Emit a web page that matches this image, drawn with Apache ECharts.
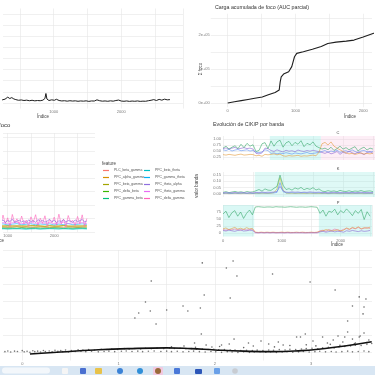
<!DOCTYPE html>
<html><head><meta charset="utf-8">
<script src="https://cdn.jsdelivr.net/npm/echarts/dist/echarts.min.js"></script>
<style>html,body{margin:0;padding:0;background:#fff}#c{width:375px;height:375px}</style>
</head><body><div id="c"></div>
<script>
// ---------- data ----------
// top-left: foco vs índice
const tlIdx = [0,60,120,180,240,280,320,350,380,410,440,480,520,560,600,640,680,720,760,800,840,870,885,900,930,970,1010,1040,1080,1120,1160,1200,1240,1280,1320,1360,1400,1440,1480,1520,1560,1600,1640,1680,1720,1760,1800,1840,1880,1920,1960,2000,2040,2080,2120,2160,2200,2240,2280,2320,2360,2400,2440,2480,2520,2560,2600,2640,2680,2720];
const tlVal = [0.28,0.30,0.26,0.30,0.28,0.34,0.52,0.40,0.48,0.36,0.30,0.24,0.27,0.22,0.25,0.20,0.24,0.19,0.22,0.20,0.25,0.40,0.85,0.35,0.22,0.28,0.24,0.33,0.22,0.18,0.20,0.16,0.20,0.17,0.19,0.15,0.18,0.16,0.19,0.14,0.18,0.17,0.28,0.20,0.16,0.18,0.15,0.19,0.16,0.22,0.26,0.17,0.15,0.18,0.14,0.17,0.15,0.18,0.14,0.16,0.15,0.20,0.24,0.30,0.22,0.32,0.25,0.34,0.28,0.30];
// top-right: carga acumulada
const trIdx = [0,100,200,300,400,510,600,700,760,775,790,825,900,946,986,1019,1116,1250,1381,1478,1600,1750,1865,2000,2155,2300];
const trVal = [0,3500,7000,10500,14000,17600,24000,31000,38000,62000,77000,85000,92000,107000,136000,146000,151000,158000,166000,175000,179000,182000,185000,194000,205000,212000];
// middle-left: features
const features = ['PLC_beta_gamma','PPC_alpha_gamma','PPC_beta_gamma','PPC_delta_beta','PPC_gamma_beta','PPC_beta_theta','PPC_gamma_theta','PPC_theta_alpha','PPC_theta_gamma','PPC_delta_gamma'];
const featColors = ['#F8766D','#D89000','#A3A500','#39B600','#00BF7D','#00BFC4','#00B0F6','#9590FF','#E76BF3','#FF62BC'];
const mlIdxA = [800,850,900,950,1000,1050,1100,1150,1200,1250,1300,1350,1400,1450,1500,1550,1600,1650,1700,1750,1800,1850,1900,1950,2000,2050,2100,2150,2200,2250,2300,2350,2400,2450,2500,2550,2600,2650,2700];
const mlIdxB = [800,900,1000,1100,1200,1300,1400,1500,1600,1700,1800,1900,2000,2100,2200,2300,2400,2500,2600,2700];
const mlRed    = [0.35,0.38,0.33,0.36,0.40,0.34,0.37,0.32,0.36,0.39,0.35,0.33,0.37,0.36,0.34,0.38,0.35,0.33,0.36,0.37];
const mlOrange = [0.42,0.45,0.40,0.44,0.47,0.41,0.43,0.46,0.42,0.44,0.40,0.45,0.43,0.41,0.46,0.42,0.44,0.41,0.45,0.43];
const mlOlive  = [0.46,0.44,0.48,0.45,0.43,0.47,0.44,0.46,0.49,0.45,0.43,0.47,0.44,0.46,0.48,0.45,0.43,0.46,0.44,0.47];
const mlGreen  = [0.30,0.32,0.28,0.31,0.29,0.33,0.30,0.28,0.32,0.30,0.29,0.31,0.33,0.30,0.28,0.31,0.29,0.32,0.30,0.31];
const mlTeal   = [0.27,0.25,0.28,0.26,0.24,0.27,0.25,0.28,0.26,0.24,0.27,0.25,0.26,0.28,0.25,0.27,0.24,0.26,0.28,0.25];
const mlCyan   = [0.22,0.24,0.21,0.23,0.25,0.22,0.20,0.23,0.24,0.21,0.22,0.25,0.23,0.21,0.24,0.22,0.20,0.23,0.24,0.22];
const mlBlue   = [0.55,0.60,0.52,0.58,0.62,0.54,0.57,0.61,0.53,0.59,0.56,0.60,0.52,0.58,0.55,0.62,0.54,0.57,0.60,0.56];
const mlViolet = [0.82,0.75,0.90,0.70,0.85,0.78,0.95,0.72,0.80,0.88,0.74,0.83,0.69,0.90,0.77,0.84,0.71,0.92,0.79,0.86,0.73,0.81,0.94,0.76,0.87,0.70,0.83,0.78,0.91,0.74,0.85,0.80,0.72,0.89,0.77,0.84,0.93,0.75,0.82];
const mlMagenta= [0.65,0.70,0.60,0.68,0.72,0.62,0.66,0.71,0.63,0.69,0.64,0.70,0.61,0.67,0.73,0.62,0.68,0.65,0.70,0.63];
const mlPink   = [0.90,0.50,1.25,0.62,1.05,0.42,1.30,0.70,0.98,0.55,1.18,0.60,0.88,0.45,1.12,0.72,1.28,0.50,1.02,0.64,1.20,0.44,0.92,0.68,1.10,0.52,1.32,0.58,0.96,0.40,1.22,0.74,0.86,0.48,1.15,0.60,1.27,0.43,1.00];
// middle-right: C / K / P por banda
const ckpIdx = [0,50,100,150,200,250,300,350,400,450,500,550,600,650,700,750,800,850,900,950,1000,1050,1100,1150,1200,1250,1300,1350,1400,1450,1500,1550,1600,1650,1700,1750,1800,1850,1900,1950,2000,2050,2100,2150,2200,2250,2300,2350,2400,2450,2500];
const cGreen  = [0.62,0.70,0.58,0.66,0.72,0.60,0.78,0.64,0.82,0.70,0.76,0.48,0.52,0.80,0.85,0.60,0.92,0.70,0.88,0.95,0.66,0.84,0.90,0.72,0.86,0.78,0.93,0.68,0.82,0.76,0.88,0.70,0.64,0.58,0.62,0.55,0.66,0.52,0.60,0.70,0.58,0.64,0.55,0.62,0.68,0.50,0.60,0.66,0.54,0.62,0.58];
const cPurple = [0.60,0.63,0.58,0.62,0.65,0.59,0.61,0.64,0.60,0.62,0.58,0.40,0.38,0.42,0.62,0.60,0.52,0.48,0.55,0.50,0.46,0.53,0.49,0.51,0.47,0.54,0.50,0.48,0.52,0.49,0.53,0.50,0.47,0.44,0.40,0.46,0.38,0.42,0.48,0.36,0.45,0.40,0.50,0.43,0.38,0.46,0.41,0.35,0.44,0.48,0.40];
const cBlue   = [0.55,0.52,0.57,0.50,0.54,0.56,0.51,0.53,0.55,0.50,0.52,0.45,0.43,0.46,0.55,0.52,0.40,0.42,0.38,0.41,0.39,0.43,0.40,0.37,0.42,0.40,0.38,0.41,0.44,0.39,0.40,0.42,0.45,0.48,0.52,0.45,0.50,0.47,0.54,0.44,0.49,0.51,0.46,0.55,0.48,0.43,0.50,0.52,0.47,0.45,0.49];
const cOrange = [0.35,0.33,0.36,0.34,0.32,0.35,0.37,0.33,0.34,0.36,0.35,0.30,0.32,0.28,0.36,0.34,0.36,0.38,0.34,0.37,0.30,0.28,0.31,0.29,0.30,0.32,0.28,0.30,0.29,0.31,0.33,0.30,0.45,0.80,0.86,0.75,0.88,0.70,0.62,0.55,0.48,0.42,0.38,0.40,0.36,0.39,0.42,0.37,0.40,0.38,0.41];
const kGreen  = [0.012,0.018,0.010,0.015,0.020,0.013,0.017,0.011,0.019,0.014,0.016,0.025,0.035,0.022,0.040,0.030,0.028,0.045,0.060,0.150,0.070,0.035,0.042,0.030,0.048,0.038,0.052,0.033,0.044,0.036,0.050,0.031,0.040,0.022,0.018,0.026,0.020,0.024,0.017,0.028,0.021,0.019,0.025,0.018,0.023,0.020,0.027,0.019,0.022,0.024,0.018];
const kPurple = [0.008,0.010,0.007,0.009,0.011,0.008,0.010,0.009,0.007,0.010,0.008,0.012,0.010,0.014,0.011,0.013,0.012,0.015,0.020,0.060,0.025,0.014,0.012,0.016,0.013,0.015,0.011,0.014,0.012,0.016,0.013,0.012,0.014,0.010,0.012,0.009,0.011,0.013,0.010,0.012,0.009,0.011,0.010,0.012,0.009,0.011,0.013,0.010,0.012,0.009,0.011];
const kBlue   = [0.004,0.006,0.005,0.003,0.006,0.004,0.005,0.006,0.004,0.005,0.003,0.006,0.005,0.007,0.006,0.005,0.007,0.008,0.012,0.090,0.018,0.008,0.007,0.009,0.006,0.008,0.007,0.009,0.006,0.008,0.007,0.006,0.008,0.005,0.006,0.004,0.005,0.006,0.005,0.004,0.006,0.005,0.004,0.006,0.005,0.004,0.006,0.005,0.004,0.005,0.006];
const kYellow = [0.003,0.004,0.002,0.003,0.004,0.003,0.002,0.004,0.003,0.002,0.003,0.004,0.003,0.005,0.004,0.003,0.005,0.010,0.040,0.130,0.030,0.006,0.004,0.005,0.003,0.004,0.005,0.003,0.004,0.005,0.003,0.004,0.003,0.003,0.004,0.002,0.003,0.004,0.003,0.002,0.003,0.004,0.003,0.002,0.003,0.004,0.003,0.002,0.003,0.004,0.003];
const pGreen  = [68,78,55,72,80,60,75,52,70,82,65,93,94,93,92,93,93,92,94,93,93,92,93,94,93,92,93,93,92,93,94,93,92,70,82,60,78,74,85,65,80,72,86,75,62,80,70,84,48,76,60];
const pOrange = [15,18,12,16,20,14,17,13,19,15,16,3,2,3,2,3,2,3,2,2,3,2,3,2,2,3,2,3,2,2,3,2,3,6,8,12,10,7,9,11,8,10,18,14,20,16,22,15,19,17,21];
const pPurple = [9,7,10,8,6,9,11,7,8,10,9,1,0.5,1,0.5,1,0.5,1,0.5,1,0.5,0.5,1,0.5,1,0.5,1,0.5,0.5,1,0.5,1,0.5,4,6,3,5,7,4,6,5,3,8,6,9,7,5,8,6,7,9];
const pPink   = [12,10,13,11,14,12,10,13,11,12,14,2,1,2,1,2,1,2,1,1,2,1,2,1,1,2,1,2,1,1,2,1,2,8,10,6,12,9,14,11,8,13,16,12,18,15,20,14,17,19,16];
const cShadeCyan = [[780,1630]], cShadePink = [[1630,2533]];
const kShadeCyan = [[530,2533]];
const pShadeCyan = [[0,530],[1630,2533]];
// bottom: scatter + loess
const bandX = [-0.18,-0.12,-0.05,0.02,0.08,0.13,0.19,0.24,0.31,0.37,0.42,0.48,0.55,0.61,0.66,0.72,0.79,0.85,0.90,0.96,1.03,1.08,1.14,1.20,1.25,1.31,1.37,1.44,1.50,1.55,1.61,1.67,1.73,1.78,1.84,1.90,1.96,2.01,2.07,2.13,2.18,2.24,2.30,2.36,2.41,2.47,2.53,2.58,2.64,2.70,2.75,2.81,2.87,2.92,2.98,3.04,3.09,3.15,3.21,3.26,3.32,3.38,3.43,3.49,3.55,3.60,
  -0.15,-0.08,0.00,0.05,0.11,0.16,0.22,0.28,0.34,0.40,0.45,0.51,0.58,0.63,0.69,0.75,0.82,0.88,0.93,0.99,1.06,1.11,1.17,1.23,1.28,1.34,1.40,1.47,1.53,1.58,1.64,1.70,1.76,1.81,1.87,1.93,1.99,2.04,2.10,2.16,2.21,2.27,2.33,2.39,2.44,2.50,2.56,2.61,2.67,2.73,2.78,2.84,2.90,2.95,3.01,3.07,3.12,3.18,3.24,3.29,3.35,3.41,3.46,3.52,3.58,3.63];
const bandY = [0.02,0.00,0.03,0.01,-0.02,0.02,0.00,0.03,0.01,0.04,0.02,0.00,0.03,0.05,0.02,0.04,0.01,0.03,0.05,0.02,0.04,0.06,0.03,0.05,0.02,0.04,0.06,0.03,0.05,0.02,0.04,0.01,0.03,0.05,0.02,0.00,0.03,0.01,-0.02,0.02,0.00,-0.03,0.01,-0.02,0.00,0.02,-0.01,0.01,-0.03,0.00,0.02,-0.01,0.01,0.03,0.00,0.02,0.04,0.01,0.03,0.00,0.02,0.05,0.01,0.03,0.06,0.02,
  0.06,0.05,0.08,0.04,0.07,0.05,0.09,0.06,0.10,0.08,0.12,0.09,0.13,0.11,0.15,0.12,0.16,0.14,0.18,0.15,0.20,0.17,0.21,0.18,0.22,0.19,0.23,0.20,0.24,0.21,0.22,0.19,0.20,0.17,0.18,0.15,0.16,0.13,0.14,0.11,0.12,0.09,0.10,0.08,0.11,0.09,0.12,0.10,0.14,0.12,0.16,0.14,0.18,0.20,0.22,0.19,0.25,0.28,0.24,0.30,0.33,0.36,0.40,0.38,0.45,0.50];
const scatX = [1.34,1.28,1.21,1.33,1.17,1.39,1.50,1.67,1.72,1.68,1.87,2.19,2.12,2.23,1.89,2.16,1.85,1.86,1.91,2.20,2.60,2.99,3.25,3.50,3.57,3.43,3.55,3.54,3.38,3.38,2.94,2.85,2.89,3.12,3.28,3.35,3.50,3.51,3.55,2.35,2.48,2.56,2.66,2.71,3.02,3.17,3.23,3.33,3.43,3.60,3.46,2.07,2.15,1.97,1.79,1.55,1.80,2.05,2.30,2.40,2.62,2.78,2.95,3.05,3.20,3.30,3.45,3.58];
const scatY = [4.18,2.94,2.29,2.41,2.00,1.65,2.47,2.71,2.41,0.35,5.24,5.35,4.94,4.47,3.35,3.18,2.59,1.06,0.41,0.76,4.59,4.12,3.65,3.24,3.12,2.71,2.65,2.24,1.82,1.18,1.06,0.88,0.88,0.88,0.94,0.88,0.88,0.94,1.12,0.53,0.65,0.47,0.59,0.41,0.65,0.53,0.71,0.59,0.76,0.71,0.53,0.41,0.47,0.29,0.53,0.30,0.28,0.32,0.26,0.35,0.30,0.38,0.42,0.36,0.45,0.40,0.48,0.55];
const loessX = [0.08,0.40,0.75,1.10,1.50,1.75,2.00,2.30,2.60,2.90,3.10,3.35,3.63];
const loessY = [-0.12,0.00,0.12,0.20,0.24,0.20,0.12,0.05,0.02,0.08,0.18,0.35,0.60];

// ---------- helpers ----------
const GRID = '#e6e6e6', T = 'rgba(0,0,0,0)', LAB = '#7a7a7a', FONT = 'Liberation Sans, Arial, sans-serif';
const pairs = (xs, ys) => xs.map((x, i) => [x, ys[i]]);
const near = (v, s) => Math.abs(Math.round(v / s) * s - v) < 1e-6;
function ax(gi, min, max, interval, extra) {
  return Object.assign({
    type: 'value', gridIndex: gi, min: min, max: max, interval: interval,
    axisLine: {show: false}, axisTick: {show: false},
    splitLine: {show: true, lineStyle: {color: GRID, width: 0.6}},
    axisLabel: {show: false}
  }, extra || {});
}
const lab = (fmt, margin) => ({show: true, fontSize: 4, color: LAB, fontFamily: FONT, margin: margin, formatter: fmt, hideOverlap: false, showMinLabel: true, showMaxLabel: true});
const split = colors => ({show: true, lineStyle: {color: colors, width: 0.6}});
const lineS = (name, xi, yi, xs, ys, color, w, extra) => Object.assign({
  name: name, type: 'line', xAxisIndex: xi, yAxisIndex: yi, data: pairs(xs, ys),
  showSymbol: false, symbol: 'none', lineStyle: {color: color, width: w}, itemStyle: {color: color}, silent: true
}, extra || {});
const shade = (ranges, color) => ({silent: true, itemStyle: {color: color}, data: ranges.map(r => [{xAxis: r[0]}, {xAxis: r[1]}])});

const xThousand = v => (near(v, 1000) && v > 0) ? String(Math.round(v)) : '';
const xThousand0 = v => (near(v, 1000) && v >= 0) ? String(Math.round(v)) : '';
const legendText = {fontSize: 3.4, lineHeight: 5, color: '#555', fontFamily: FONT};

const option = {
  animation: false,
  backgroundColor: '#ffffff',
  grid: [
    {left: 0.6, top: 8.5, width: 182.4, height: 100},     // 0 top-left
    {left: 210.75, top: 13.75, width: 164.25, height: 93.5}, // 1 top-right
    {left: 0.2, top: 133, width: 94.8, height: 99},        // 2 middle-left
    {left: 223, top: 136, width: 152, height: 24},         // 3 C
    {left: 223, top: 172, width: 152, height: 25},         // 4 K
    {left: 223, top: 205, width: 152, height: 31.5},       // 5 P
    {left: 0.46, top: 250, width: 374.5, height: 110.5}    // 6 bottom
  ],
  xAxis: [
    ax(0, 250, 2913, 250, {axisLabel: lab(xThousand, 1), splitLine: split([T, GRID])}),
    ax(1, -250, 2130, 250, {axisLabel: lab(xThousand0, 2), splitLine: split([T, GRID])}),
    ax(2, 900, 2875, 100, {axisLabel: lab(xThousand, 2), splitLine: split([T, GRID, T, T, T])}),
    ax(3, 0, 2533, 500),
    ax(4, 0, 2533, 500),
    ax(5, 0, 2533, 500, {axisLabel: lab(xThousand0, 2)}),
    ax(6, -0.2, 3.633, 0.1, {axisLabel: lab(v => (near(v, 1) && v > -0.01) ? String(Math.round(v)) : '', 1), splitLine: split([T, T, GRID, T, T])})
  ],
  yAxis: [
    ax(0, -0.5, 8.5, 0.5, {splitLine: split([T, GRID])}),
    ax(1, -12500, 262500, 12500, {splitLine: split([T, GRID, T, T]),
      axisLabel: lab(v => (near(v, 100000) && v >= 0) ? (v === 0 ? '0e+00' : Math.round(v / 100000) + 'e+05') : '', 1)}),
    ax(2, 0, 7.33, 1),
    ax(3, 0.125, 1.125, 0.125, {splitLine: split([T, GRID]),
      axisLabel: lab(v => (near(v, 0.25) && v > 0.2 && v < 1.01) ? v.toFixed(2) : '', 2)}),
    ax(4, -0.025, 0.175, 0.025, {splitLine: split([T, GRID]),
      axisLabel: lab(v => (near(v, 0.05) && v > -0.001 && v < 0.16) ? Math.abs(v).toFixed(2) : '', 2)}),
    ax(5, -12.5, 100, 12.5, {splitLine: split([T, GRID]),
      axisLabel: lab(v => (near(v, 25) && v > -1 && v < 90) ? String(Math.round(v)) : '', 2)}),
    ax(6, -0.5, 6, 0.5, {splitLine: split([T, GRID])})
  ],
  legend: [
    {data: features.slice(0, 5), orient: 'vertical', left: 103, top: 168, padding: 0, itemWidth: 6, itemHeight: 1.2, itemGap: 2, icon: 'rect', selectedMode: false, textStyle: legendText},
    {data: features.slice(5), orient: 'vertical', left: 144, top: 168, padding: 0, itemWidth: 6, itemHeight: 1.2, itemGap: 2, icon: 'rect', selectedMode: false, textStyle: legendText}
  ],
  series: [
    lineS('tl', 0, 0, tlIdx, tlVal, '#1e1e1e', 1),
    lineS('tr', 1, 1, trIdx, trVal, '#1e1e1e', 1.1),
    // middle-left features
    lineS(features[0], 2, 2, mlIdxB, mlRed, featColors[0], 0.6),
    lineS(features[1], 2, 2, mlIdxB, mlOrange, featColors[1], 0.6),
    lineS(features[2], 2, 2, mlIdxB, mlOlive, featColors[2], 0.7),
    lineS(features[3], 2, 2, mlIdxB, mlGreen, featColors[3], 0.6),
    lineS(features[4], 2, 2, mlIdxB, mlTeal, featColors[4], 0.6),
    lineS(features[5], 2, 2, mlIdxB, mlCyan, featColors[5], 0.6),
    lineS(features[6], 2, 2, mlIdxB, mlBlue, featColors[6], 0.6),
    lineS(features[9], 2, 2, mlIdxA, mlPink, featColors[9], 0.6),
    lineS(features[8], 2, 2, mlIdxB, mlMagenta, featColors[8], 0.6),
    lineS(features[7], 2, 2, mlIdxA, mlViolet, '#8f6fe0', 0.7),
    // C
    lineS('C_blue', 3, 3, ckpIdx, cBlue, '#5b8ff0', 0.6, {markArea: shade(cShadeCyan, 'rgba(150,235,225,0.35)')}),
    lineS('C_purple', 3, 3, ckpIdx, cPurple, '#8a63d2', 0.6, {markArea: shade(cShadePink, 'rgba(250,200,225,0.3)')}),
    lineS('C_orange', 3, 3, ckpIdx, cOrange, '#e39b3a', 0.6),
    lineS('C_green', 3, 3, ckpIdx, cGreen, '#35a86a', 0.6),
    // K
    lineS('K_yellow', 4, 4, ckpIdx, kYellow, '#c9c23a', 0.6, {markArea: shade(kShadeCyan, 'rgba(150,235,225,0.3)')}),
    lineS('K_green', 4, 4, ckpIdx, kGreen, '#35a86a', 0.6),
    lineS('K_purple', 4, 4, ckpIdx, kPurple, '#8a63d2', 0.6),
    lineS('K_blue', 4, 4, ckpIdx, kBlue, '#5b8ff0', 0.6),
    // P
    lineS('P_pink', 5, 5, ckpIdx, pPink, '#ef6fa8', 0.6, {markArea: shade(pShadeCyan, 'rgba(150,235,225,0.35)')}),
    lineS('P_orange', 5, 5, ckpIdx, pOrange, '#e39b3a', 0.6),
    lineS('P_purple', 5, 5, ckpIdx, pPurple, '#8a63d2', 0.6),
    lineS('P_green', 5, 5, ckpIdx, pGreen, '#35a86a', 0.6),
    // bottom
    {name: 'band', type: 'scatter', xAxisIndex: 6, yAxisIndex: 6, data: pairs(bandX, bandY), symbolSize: 1.6, itemStyle: {color: '#555'}, silent: true},
    {name: 'outliers', type: 'scatter', xAxisIndex: 6, yAxisIndex: 6, data: pairs(scatX, scatY), symbolSize: 1.6, itemStyle: {color: '#444'}, silent: true},
    lineS('loess', 6, 6, loessX, loessY, '#111', 1.6, {smooth: true})
  ],
  graphic: [
    {type: 'text', x: 43, y: 117, silent: true, style: {text: 'Índice', fontSize: 4.5, fill: '#444', fontFamily: FONT, align: 'center', verticalAlign: 'middle'}},
    {type: 'text', x: 215, y: 8, silent: true, style: {text: 'Carga acumulada de foco (AUC parcial)', fontSize: 5.3, fill: '#333', fontFamily: FONT, align: 'left', verticalAlign: 'middle'}},
    {type: 'text', x: 201, y: 69, rotation: Math.PI / 2, silent: true, style: {text: 'Σ foco', fontSize: 4.5, fill: '#444', fontFamily: FONT, align: 'center', verticalAlign: 'middle'}},
    {type: 'text', x: 350, y: 117, silent: true, style: {text: 'Índice', fontSize: 4.5, fill: '#444', fontFamily: FONT, align: 'center', verticalAlign: 'middle'}},
    {type: 'text', x: -1, y: 125, silent: true, style: {text: 'foco', fontSize: 6, fill: '#333', fontFamily: FONT, align: 'left', verticalAlign: 'middle'}},
    {type: 'text', x: -2, y: 241, silent: true, style: {text: 'Índice', fontSize: 4.5, fill: '#444', fontFamily: FONT, align: 'center', verticalAlign: 'middle'}},
    {type: 'text', x: 102, y: 164, silent: true, style: {text: 'feature', fontSize: 4.5, fill: '#444', fontFamily: FONT, align: 'left', verticalAlign: 'middle'}},
    {type: 'text', x: 213, y: 125, silent: true, style: {text: 'Evolución de C/K/P por banda', fontSize: 5.3, fill: '#333', fontFamily: FONT, align: 'left', verticalAlign: 'middle'}},
    {type: 'text', x: 338, y: 133, silent: true, style: {text: 'C', fontSize: 4, fill: '#444', fontFamily: FONT, align: 'center', verticalAlign: 'middle'}},
    {type: 'text', x: 338, y: 169, silent: true, style: {text: 'K', fontSize: 4, fill: '#444', fontFamily: FONT, align: 'center', verticalAlign: 'middle'}},
    {type: 'text', x: 338, y: 202.5, silent: true, style: {text: 'P', fontSize: 4, fill: '#444', fontFamily: FONT, align: 'center', verticalAlign: 'middle'}},
    {type: 'text', x: 197, y: 186, rotation: Math.PI / 2, silent: true, style: {text: 'valor banda', fontSize: 4.5, fill: '#444', fontFamily: FONT, align: 'center', verticalAlign: 'middle'}},
    {type: 'text', x: 337, y: 245, silent: true, style: {text: 'Índice', fontSize: 4.5, fill: '#444', fontFamily: FONT, align: 'center', verticalAlign: 'middle'}},
    // taskbar
    {type: 'rect', z: 100, silent: true, shape: {x: 0, y: 366, width: 375, height: 9}, style: {fill: '#d8e6f3'}},
    {type: 'rect', z: 101, silent: true, shape: {x: 2, y: 367.5, width: 48, height: 6, r: 3}, style: {fill: '#f3f7fb'}},
    {type: 'rect', z: 101, silent: true, shape: {x: 62, y: 368, width: 6, height: 6, r: 1}, style: {fill: '#f5f5f5'}},
    {type: 'rect', z: 101, silent: true, shape: {x: 80, y: 368, width: 6, height: 6, r: 1}, style: {fill: '#4a6fd0'}},
    {type: 'rect', z: 101, silent: true, shape: {x: 95, y: 368, width: 7, height: 6, r: 1}, style: {fill: '#e8c24a'}},
    {type: 'circle', z: 101, silent: true, shape: {cx: 120, cy: 371, r: 3}, style: {fill: '#3b82d6'}},
    {type: 'circle', z: 101, silent: true, shape: {cx: 140, cy: 371, r: 3}, style: {fill: '#2f8fd8'}},
    {type: 'rect', z: 101, silent: true, shape: {x: 153, y: 367, width: 10, height: 8, r: 1}, style: {fill: '#f2c9e0'}},
    {type: 'circle', z: 102, silent: true, shape: {cx: 158, cy: 371, r: 3}, style: {fill: '#9a6a3a'}},
    {type: 'rect', z: 101, silent: true, shape: {x: 174, y: 368, width: 6, height: 6, r: 1}, style: {fill: '#4a78d8'}},
    {type: 'rect', z: 101, silent: true, shape: {x: 195, y: 369, width: 7, height: 5, r: 1}, style: {fill: '#2c56b8'}},
    {type: 'rect', z: 101, silent: true, shape: {x: 214, y: 368, width: 6, height: 6, r: 1}, style: {fill: '#6aa0e8'}},
    {type: 'circle', z: 101, silent: true, shape: {cx: 235, cy: 371, r: 2.8}, style: {fill: '#c8ccd2'}}
  ]
};
const chart = echarts.init(document.getElementById('c'), null, {renderer: 'canvas'});
chart.setOption(option);
</script></body></html>
